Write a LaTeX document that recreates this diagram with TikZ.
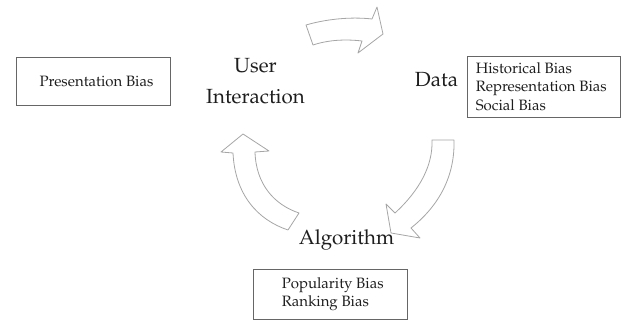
\documentclass[tikz,border=0pt]{standalone}
\usepackage[T1]{fontenc}
\usepackage{mathpazo}
\usetikzlibrary{calc}
\definecolor{arrowgray}{HTML}{A6A6A6}
\definecolor{boxgray}{HTML}{666666}
\definecolor{ink}{HTML}{1E1E1E}
\tikzset{
  stagelabel/.style={font=\fontsize{20.5}{31}\selectfont, text=ink, inner sep=0pt, align=center},
  biasbox/.style={draw=boxgray, line width=0.8pt, inner sep=0pt},
  biastext/.style={font=\fontsize{15}{18.5}\selectfont, text=ink, inner sep=0pt, align=left},
  blockarrow/.style={draw=arrowgray, line width=0.8pt, fill=white, line join=round}
}
\begin{document}
\begin{tikzpicture}[x=1pt, y=-1pt]
\useasboundingbox (0,0) rectangle (621,320);
% stage labels
\node[stagelabel, anchor=north] (ui) at (255.5,58) {User\\Interaction};
\node[stagelabel, anchor=base] (data) at (436.5,87) {Data};
\node[stagelabel, anchor=base] (algo) at (346.5,245) {Algorithm};
% bias boxes
\node[biasbox, minimum width=154pt, minimum height=48pt] (presbox) at (93,81) {};
\node[biastext, anchor=center] (prestext) at (96.5,81) {Presentation Bias};
\node[biasbox, minimum width=153pt, minimum height=61pt] (databox) at (543.5,86.5) {};
\node[biastext, anchor=west] (datatext) at ($(databox.west)+(9,0)$) {Historical Bias\\Representation Bias\\Social Bias};
\node[biasbox, minimum width=154pt, minimum height=50pt] (popbox) at (330,294) {};
\node[biastext, anchor=west] (poptext) at ($(popbox.west)+(29,0)$) {Popularity Bias\\Ranking Bias};
% curved block arrows
\draw[blockarrow] (306,25) .. controls (330,18) and (355,17) .. (372,19) -- (377,7) -- (383,34) -- (358,53) -- (362,41)
  .. controls (345,39) and (328,40) .. (313,45) -- cycle;
\draw[blockarrow] (432,140) -- (454,140) .. controls (455,175) and (440,205) .. (411,228) -- (420,238) -- (391,233)
  -- (386,204) -- (395,213) .. controls (420,190) and (433,165) .. (432,140) -- cycle;
\draw[blockarrow] (243,134) -- (269,151) -- (255,152) .. controls (256,185) and (275,205) .. (299,213) -- (288,230)
  .. controls (258,220) and (235,195) .. (233,153) -- (221,152) -- cycle;
\end{tikzpicture}
\end{document}
